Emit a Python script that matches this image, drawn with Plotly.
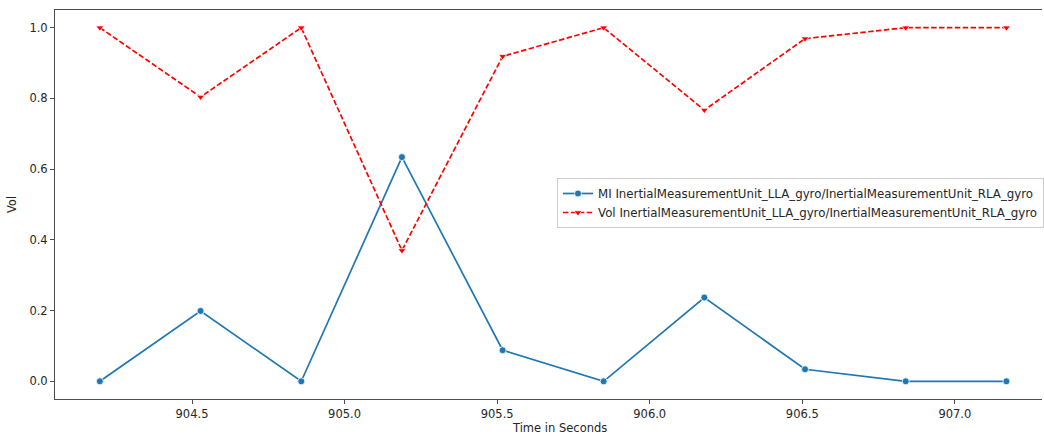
import plotly.graph_objects as go

# Sample times (seconds) and the two per-window measures
time_s = [904.198, 904.528, 904.858, 905.188, 905.518, 905.849, 906.179, 906.509, 906.839, 907.169]
mi_values = [0.0, 0.199, 0.0, 0.634, 0.088, 0.0, 0.237, 0.034, 0.0, 0.0]
vol_values = [1.0, 0.804, 1.0, 0.370, 0.919, 1.0, 0.767, 0.969, 1.0, 1.0]

pair_name = "InertialMeasurementUnit_LLA_gyro/InertialMeasurementUnit_RLA_gyro"
series_names = ["MI " + pair_name, "Vol " + pair_name]

x_tick_vals = [904.5, 905.0, 905.5, 906.0, 906.5, 907.0]
y_tick_vals = [0.0, 0.2, 0.4, 0.6, 0.8, 1.0]

FONT = "DejaVu Sans"
FS = 11.5
TEXT = "#262626"
SPINE = "#4d4d4d"

fig = go.Figure()
fig.add_trace(go.Scatter(
    x=time_s, y=mi_values, name=series_names[0], mode="lines+markers",
    line=dict(color="#1f77b4", width=1.7),
    marker=dict(symbol="circle", size=7, color="#1f77b4",
                line=dict(color="white", width=0.8)),
))
fig.add_trace(go.Scatter(
    x=time_s, y=vol_values, name=series_names[1], mode="lines+markers",
    line=dict(color="#ff0000", width=1.7, dash="5.5px,2.4px"),
    marker=dict(symbol="triangle-down", size=7, color="#ff0000",
                line=dict(color="white", width=0.8)),
))

x_lo = 904.051
x_hi = x_lo + 989 / 305.76

fig.update_layout(
    width=1044, height=438,
    margin=dict(l=55, r=0, t=10, b=39),
    paper_bgcolor="white", plot_bgcolor="white",
    font=dict(family=FONT, size=FS, color=TEXT),
    showlegend=True,
    legend=dict(
        x=(558 - 55) / 989, y=(399 - 178) / 389,
        xanchor="left", yanchor="top",
        bgcolor="rgba(255,255,255,0.8)", bordercolor="#cccccc", borderwidth=1,
        font=dict(family=FONT, size=11.8, color=TEXT),
        tracegroupgap=0,
    ),
    xaxis=dict(
        range=[x_lo, x_hi], tickvals=x_tick_vals, tickformat=".1f",
        showgrid=False, zeroline=False,
        showline=True, linecolor=SPINE, linewidth=1, mirror=True,
        ticks="outside", ticklen=4, tickcolor=SPINE, tickwidth=1,
        tickfont=dict(family=FONT, size=FS, color=TEXT),
    ),
    yaxis=dict(
        range=[-0.05, 1.05], tickvals=y_tick_vals, tickformat=".1f",
        showgrid=False, zeroline=False,
        showline=True, linecolor=SPINE, linewidth=1,
        ticks="outside", ticklen=4, tickcolor=SPINE, tickwidth=1,
        tickfont=dict(family=FONT, size=FS, color=TEXT),
        title=dict(text="Vol", font=dict(family=FONT, size=FS, color=TEXT), standoff=10),
    ),
)

# x-axis label centred on the full axes span
fig.add_annotation(
    x=(x_lo + (x_lo + 1000 / 305.76)) / 2 + 0.018, xref="x",
    y=0, yref="paper", yshift=-29, yanchor="middle",
    text="Time in Seconds", showarrow=False,
    font=dict(family=FONT, size=FS, color=TEXT),
)

fig.write_html("out.html")
